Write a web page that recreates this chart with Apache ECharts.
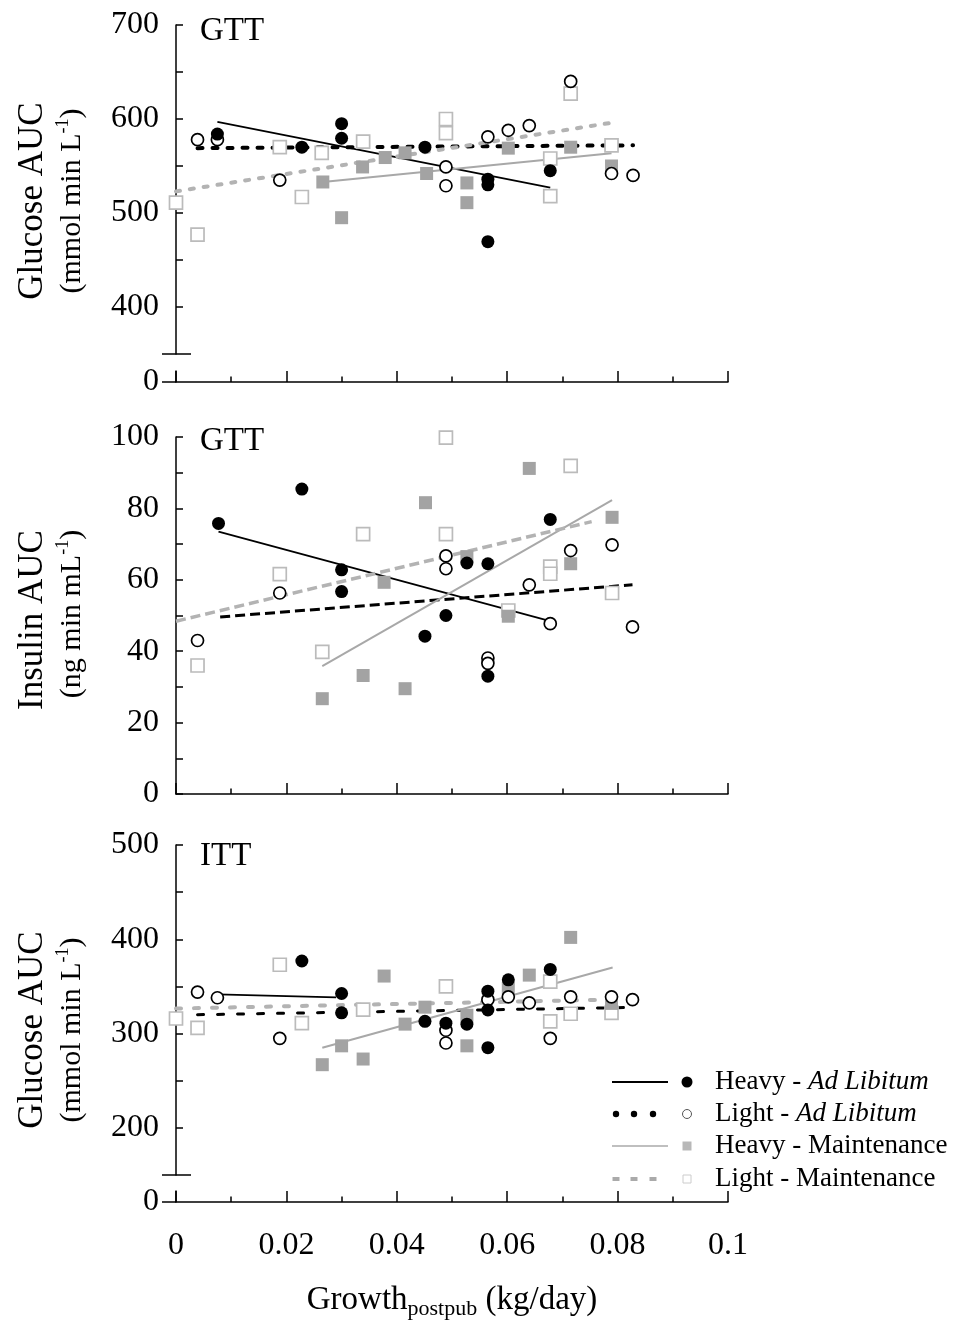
<!DOCTYPE html>
<html><head><meta charset="utf-8">
<script src="https://cdn.jsdelivr.net/npm/echarts@6/dist/echarts.min.js"></script>
<style>html,body{margin:0;padding:0;background:#fff}#c{width:953px;height:1325px}</style>
</head><body><div id="c"></div>
<script>
// ---------- DATA (x = Growth_postpub kg/day, y = AUC) ----------
// Panel 1: GTT glucose AUC
const gttGlucoseHeavyAdLib = [[0.0075,584],[0.0228,570],[0.030,595],[0.030,579.5],[0.0451,570],[0.0565,536],[0.0565,530],[0.0565,469.5],[0.0678,545]];
const gttGlucoseLightAdLib = [[0.0039,578],[0.0075,578],[0.0188,535],[0.0489,549],[0.0489,529],[0.0565,581],[0.0602,588],[0.0640,593],[0.0715,640],[0.0789,542],[0.0828,540]];
const gttGlucoseHeavyMaint = [[0.0266,533],[0.030,495],[0.0338,549],[0.0379,559],[0.0415,564],[0.0454,542],[0.0527,532],[0.0527,511],[0.0602,569],[0.0715,570],[0.0789,550]];
const gttGlucoseLightMaint = [[0,511],[0.0039,477],[0.0188,570],[0.0228,517],[0.0264,564],[0.0339,576],[0.0489,600],[0.0489,585],[0.0678,558],[0.0678,518],[0.0715,627],[0.0789,572]];
const gttGlucoseFitHeavyAdLib = [[0.0075,597],[0.0678,527]];
const gttGlucoseFitLightAdLib = [[0.0039,569],[0.0828,572]];
const gttGlucoseFitHeavyMaint = [[0.0266,533],[0.0789,563.5]];
const gttGlucoseFitLightMaint = [[0,523],[0.0789,596]];

// Panel 2: GTT insulin AUC
const gttInsulinHeavyAdLib = [[0.0077,75.8],[0.0228,85.4],[0.030,62.8],[0.030,56.7],[0.0451,44.2],[0.0489,50],[0.0527,64.7],[0.0565,64.5],[0.0565,33],[0.0678,76.9]];
const gttInsulinLightAdLib = [[0.0039,43],[0.0188,56.3],[0.0489,66.7],[0.0489,63.1],[0.0565,38.1],[0.0565,36.6],[0.064,58.6],[0.0678,47.7],[0.0715,68.2],[0.079,69.8],[0.0827,46.8]];
const gttInsulinHeavyMaint = [[0.0265,26.7],[0.0339,33.2],[0.0377,59.3],[0.0415,29.5],[0.0452,81.6],[0.0527,66.5],[0.0602,49.8],[0.064,91.2],[0.0715,64.5],[0.079,77.5]];
const gttInsulinLightMaint = [[0.0039,36],[0.0188,61.6],[0.0265,39.8],[0.0339,72.8],[0.0489,99.8],[0.0489,72.8],[0.0602,51.4],[0.0678,63.7],[0.0678,61.7],[0.0715,91.9],[0.079,56.3]];
const gttInsulinFitHeavyAdLib = [[0.0077,73.5],[0.0678,48.4]];
const gttInsulinFitLightAdLib = [[0.008,49.6],[0.0827,58.6]];
const gttInsulinFitHeavyMaint = [[0.0265,35.8],[0.079,82.3]];
const gttInsulinFitLightMaint = [[0,48.4],[0.0753,76.3]];

// Panel 3: ITT glucose AUC
const ittGlucoseHeavyAdLib = [[0.0228,377],[0.030,342.5],[0.030,322],[0.0451,313],[0.0489,311],[0.0527,310],[0.0565,345],[0.0565,325],[0.0565,285],[0.0602,357],[0.0678,368]];
const ittGlucoseLightAdLib = [[0.0039,344],[0.0075,338],[0.0188,295],[0.0489,303.5],[0.0489,290],[0.0565,336],[0.0602,339],[0.064,332.6],[0.0678,295],[0.0715,339],[0.0789,339],[0.0827,336]];
const ittGlucoseHeavyMaint = [[0.0265,267],[0.030,287],[0.0339,273],[0.0377,361],[0.0415,310],[0.0451,328],[0.0527,319.5],[0.0527,287],[0.0602,348],[0.064,362],[0.0715,402],[0.0789,332]];
const ittGlucoseLightMaint = [[0,316],[0.0039,306],[0.0188,373],[0.0228,311],[0.0339,325.5],[0.0489,350],[0.0678,355],[0.0678,313],[0.0715,321],[0.0789,322]];
const ittGlucoseFitHeavyAdLib = [[0.0075,341.5],[0.029,338.3]];
const ittGlucoseFitLightAdLib = [[0.0039,320],[0.0822,327.7]];
const ittGlucoseFitHeavyMaint = [[0.0265,285],[0.0791,370]];
const ittGlucoseFitLightMaint = [[0,326.6],[0.0789,336]];

// axis ranges / ticks
const xRange = [0, 0.1];
const xInterval = 0.02;
const yRangeTop = [350, 700];
const yRangeMid = [0, 100];
const yRangeBot = [150, 500];
const panelTitles = ['GTT', 'GTT', 'ITT'];
const legendLabels = [['Heavy - ', 'Ad Libitum'], ['Light - ', 'Ad Libitum'], ['Heavy - Maintenance', ''], ['Light - Maintenance', '']];

// ---------- CHART ----------
const SERIF = "'Liberation Serif','Times New Roman',serif";
const AX = { color: '#000', width: 1.5 };
const chart = echarts.init(document.getElementById('c'), null, { renderer: 'canvas' });

const L = 176, W = 552;
const grid = [
  { left: L, width: W, top: 25, height: 329 },    // 0 top data
  { left: L, width: W, top: 371, height: 11 },    // 1 top zero
  { left: L, width: W, top: 437, height: 357 },   // 2 middle
  { left: L, width: W, top: 845, height: 330 },   // 3 bottom data
  { left: L, width: W, top: 1191, height: 11 }    // 4 bottom zero
].map(g => Object.assign({ containLabel: false, outerBoundsMode: 'none' }, g));

function xAx(gi, visible, labels) {
  return {
    type: 'value', gridIndex: gi, min: xRange[0], max: xRange[1], interval: xInterval,
    show: visible, position: 'bottom',
    axisLine: { show: true, lineStyle: AX },
    axisTick: { show: true, inside: true, length: 11, lineStyle: AX },
    minorTick: { show: true, splitNumber: 2, length: 5.5, lineStyle: AX },
    splitLine: { show: false }, minorSplitLine: { show: false },
    axisLabel: { show: labels, margin: 28, color: '#000', fontFamily: SERIF, fontSize: 32 }
  };
}
function yMain(gi, range, interval, labelStep) {
  return {
    type: 'value', gridIndex: gi, min: range[0], max: range[1], interval: interval,
    position: 'left', offset: 0,
    axisLine: { show: true, lineStyle: AX },
    axisTick: { show: true, inside: true, length: 7, lineStyle: AX },
    splitLine: { show: false },
    axisLabel: {
      show: true, margin: 17, color: '#000', fontFamily: SERIF, fontSize: 32,
      formatter: v => (v % labelStep === 0 && (range[0] === 0 || v > range[0])) ? String(v) : ''
    }
  };
}
function yBreak(gi, range, inside, len) {
  return {
    type: 'value', gridIndex: gi, min: range[0], max: range[1],
    position: 'left', offset: 0,
    axisLine: { show: false }, splitLine: { show: false },
    axisTick: { show: true, inside: inside, length: len, lineStyle: AX, customValues: [range[0]] },
    axisLabel: { show: false }
  };
}
function yZero(gi) {
  return {
    type: 'value', gridIndex: gi, min: 0, max: 10, position: 'left', offset: 0,
    axisLine: { show: true, lineStyle: AX }, splitLine: { show: false },
    axisTick: { show: true, inside: false, length: 14, lineStyle: AX, customValues: [0] },
    axisLabel: { show: true, margin: 17, color: '#000', fontFamily: SERIF, fontSize: 32, customValues: [0] }
  };
}

const xAxis = [xAx(0, false, false), xAx(1, true, false), xAx(2, true, false), xAx(3, false, false), xAx(4, true, true)];
const yAxis = [
  yMain(0, yRangeTop, 50, 100),   // 0
  yBreak(0, yRangeTop, false, 14),// 1
  yBreak(0, yRangeTop, true, 15), // 2
  yZero(1),                       // 3
  yMain(2, yRangeMid, 10, 20),    // 4
  yMain(3, yRangeBot, 50, 100),   // 5
  yBreak(3, yRangeBot, false, 14),// 6
  yBreak(3, yRangeBot, true, 15), // 7
  yZero(4)                        // 8
];

const STY = {
  heavyAL: { symbol: 'circle', symbolSize: 13, itemStyle: { color: '#000', opacity: 1 } },
  lightAL: { symbol: 'circle', symbolSize: 12, itemStyle: { color: '#fff', borderColor: '#000', borderWidth: 1.7, opacity: 1 } },
  heavyM:  { symbol: 'rect', symbolSize: 13, itemStyle: { color: '#a3a3a3', opacity: 1 } },
  lightM:  { symbol: 'rect', symbolSize: 13, itemStyle: { color: '#fff', borderColor: '#bbbbbb', borderWidth: 1.7, opacity: 1 } }
};
function sc(data, sty, xi, yi) {
  return Object.assign({ type: 'scatter', xAxisIndex: xi, yAxisIndex: yi, data: data, z: 4, silent: true, animation: false }, sty);
}
function ln(data, ls, xi, yi) {
  return { type: 'line', xAxisIndex: xi, yAxisIndex: yi, data: data, symbol: 'none', z: 3, silent: true, animation: false, lineStyle: ls };
}
const solidBlack = { color: '#000', width: 1.8 };
const solidGray = { color: '#a8a8a8', width: 2 };

const series = [
  // top
  ln(gttGlucoseFitHeavyAdLib, solidBlack, 0, 0),
  ln(gttGlucoseFitLightAdLib, { color: '#000', width: 4, type: [5, 10], cap: 'round' }, 0, 0),
  ln(gttGlucoseFitHeavyMaint, solidGray, 0, 0),
  ln(gttGlucoseFitLightMaint, { color: '#b3b3b3', width: 4, type: [4, 10], cap: 'round' }, 0, 0),
  sc(gttGlucoseLightMaint, STY.lightM, 0, 0),
  sc(gttGlucoseHeavyMaint, STY.heavyM, 0, 0),
  sc(gttGlucoseLightAdLib, STY.lightAL, 0, 0),
  sc(gttGlucoseHeavyAdLib, STY.heavyAL, 0, 0),
  // middle
  ln(gttInsulinFitHeavyAdLib, solidBlack, 2, 4),
  ln(gttInsulinFitLightAdLib, { color: '#000', width: 3, type: [10, 5] }, 2, 4),
  ln(gttInsulinFitHeavyMaint, solidGray, 2, 4),
  ln(gttInsulinFitLightMaint, { color: '#b3b3b3', width: 3.5, type: [10, 5] }, 2, 4),
  sc(gttInsulinLightMaint, STY.lightM, 2, 4),
  sc(gttInsulinHeavyMaint, STY.heavyM, 2, 4),
  sc(gttInsulinLightAdLib, STY.lightAL, 2, 4),
  sc(gttInsulinHeavyAdLib, STY.heavyAL, 2, 4),
  // bottom
  ln(ittGlucoseFitHeavyAdLib, solidBlack, 3, 5),
  ln(ittGlucoseFitLightAdLib, { color: '#000', width: 3, type: [6, 14], cap: 'round' }, 3, 5),
  ln(ittGlucoseFitHeavyMaint, solidGray, 3, 5),
  ln(ittGlucoseFitLightMaint, { color: '#b3b3b3', width: 4, type: [5, 13], cap: 'round' }, 3, 5),
  sc(ittGlucoseLightMaint, STY.lightM, 3, 5),
  sc(ittGlucoseHeavyMaint, STY.heavyM, 3, 5),
  sc(ittGlucoseLightAdLib, STY.lightAL, 3, 5),
  sc(ittGlucoseHeavyAdLib, STY.heavyAL, 3, 5)
];

const titleTops = [15, 425, 840];
const title = panelTitles.map((t, i) => ({
  text: t, left: 200, top: titleTops[i], padding: 0,
  textStyle: { fontFamily: SERIF, fontSize: 33, fontWeight: 'normal', color: '#000' }
}));

function vText(txt, x, y, size, rich) {
  const st = { text: txt, fontFamily: SERIF, fontSize: size, fill: '#000',
               align: 'center', verticalAlign: 'middle', textAlign: 'center', textVerticalAlign: 'middle' };
  if (rich) st.rich = rich;
  return { type: 'text', x: x, y: y, rotation: Math.PI / 2, style: st, z: 10 };
}
const supRich = {
  a: { fontFamily: SERIF, fontSize: 30, lineHeight: 36, fill: '#000', color: '#000' },
  s: { fontFamily: SERIF, fontSize: 18, lineHeight: 18, verticalAlign: 'top', fill: '#000', color: '#000' }
};
const legendRich = {
  n: { fontFamily: SERIF, fontSize: 27, fill: '#000', color: '#000' },
  i: { fontFamily: SERIF, fontSize: 27, fontStyle: 'italic', fill: '#000', color: '#000' }
};
const legY = [1082, 1114, 1146, 1179];
const graphic = [
  vText('Glucose AUC', 33, 201, 35),
  vText('{a|(mmol min L}{s|-1}{a|)}', 72, 201, 30, supRich),
  vText('Insulin AUC', 33, 620, 35),
  vText('{a|(ng min mL}{s|-1}{a|)}', 72, 614, 30, supRich),
  vText('Glucose AUC', 33, 1030, 35),
  vText('{a|(mmol min L}{s|-1}{a|)}', 72, 1030, 30, supRich),
  { type: 'text', x: 452, y: 1300, z: 10, style: {
      text: '{a|Growth}{b|postpub}{a| (kg/day)}', align: 'center', verticalAlign: 'middle',
      textAlign: 'center', textVerticalAlign: 'middle',
      rich: { a: { fontFamily: SERIF, fontSize: 33, lineHeight: 40, fill: '#000', color: '#000' },
              b: { fontFamily: SERIF, fontSize: 22, lineHeight: 20, verticalAlign: 'bottom', fill: '#000', color: '#000' } } } },
  // legend
  { type: 'line', shape: { x1: 612, y1: legY[0], x2: 668, y2: legY[0] }, style: { stroke: '#000', lineWidth: 2 } },
  { type: 'circle', shape: { cx: 687, cy: legY[0], r: 5.5 }, style: { fill: '#000' } },
  { type: 'circle', shape: { cx: 616, cy: legY[1], r: 3.2 }, style: { fill: '#000' } },
  { type: 'circle', shape: { cx: 634, cy: legY[1], r: 3.2 }, style: { fill: '#000' } },
  { type: 'circle', shape: { cx: 653, cy: legY[1], r: 3.2 }, style: { fill: '#000' } },
  { type: 'circle', shape: { cx: 687, cy: legY[1], r: 4.5 }, style: { fill: '#fff', stroke: '#555', lineWidth: 1 } },
  { type: 'line', shape: { x1: 612, y1: legY[2], x2: 668, y2: legY[2] }, style: { stroke: '#aaa', lineWidth: 1.5 } },
  { type: 'rect', shape: { x: 682.5, y: legY[2] - 4.5, width: 9, height: 9 }, style: { fill: '#b8b8b8' } },
  { type: 'rect', shape: { x: 612.5, y: legY[3] - 2, width: 7, height: 4 }, style: { fill: '#aaa' } },
  { type: 'rect', shape: { x: 630.5, y: legY[3] - 2, width: 7, height: 4 }, style: { fill: '#aaa' } },
  { type: 'rect', shape: { x: 649.5, y: legY[3] - 2, width: 7, height: 4 }, style: { fill: '#aaa' } },
  { type: 'rect', shape: { x: 683, y: legY[3] - 4, width: 8, height: 8 }, style: { fill: '#fff', stroke: '#ccc', lineWidth: 1 } }
].concat(legendLabels.map((lb, i) => ({
  type: 'text', x: 715, y: legY[i], z: 10,
  style: { text: '{n|' + lb[0] + '}' + (lb[1] ? '{i|' + lb[1] + '}' : ''), rich: legendRich,
           align: 'left', verticalAlign: 'middle', textAlign: 'left', textVerticalAlign: 'middle' }
})));

chart.setOption({
  animation: false,
  backgroundColor: '#fff',
  title: title,
  grid: grid,
  xAxis: xAxis,
  yAxis: yAxis,
  series: series,
  graphic: graphic
});
</script></body></html>
